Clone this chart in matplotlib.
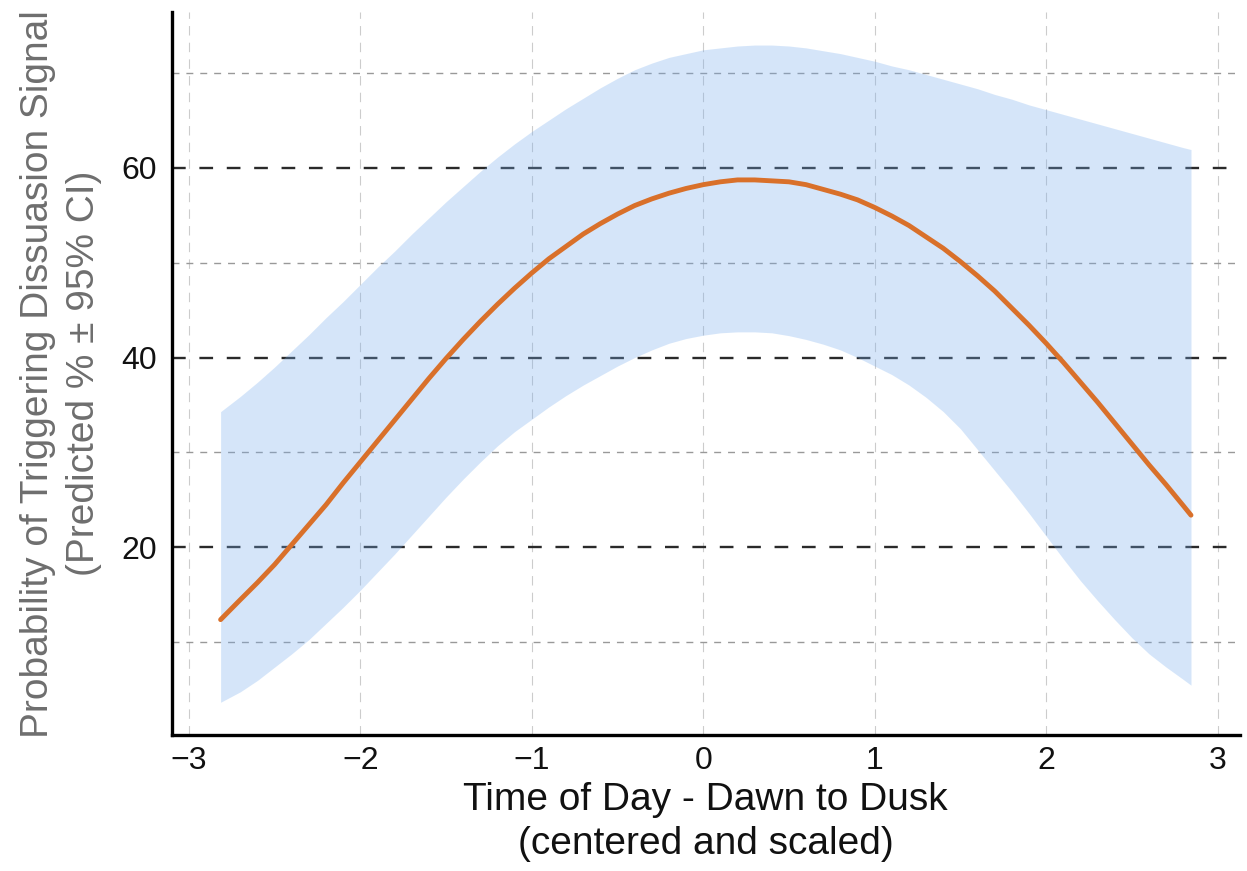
import numpy as np
import matplotlib
matplotlib.use("Agg")
import matplotlib.pyplot as plt

plt.rcParams["font.family"] = ["Liberation Sans", "DejaVu Sans"]

# values
time_scaled = [-2.815, -2.7, -2.6, -2.5, -2.4, -2.3, -2.2, -2.1, -2.0, -1.9,
               -1.8, -1.7, -1.6, -1.5, -1.4, -1.3, -1.2, -1.1, -1.0, -0.9,
               -0.8, -0.7, -0.6, -0.5, -0.4, -0.3, -0.2, -0.1,
               0.0, 0.1, 0.2, 0.3, 0.4, 0.5, 0.6, 0.7, 0.8, 0.9,
               1.0, 1.1, 1.2, 1.3, 1.4, 1.5, 1.6, 1.7, 1.8, 1.9,
               2.0, 2.1, 2.2, 2.3, 2.4, 2.5, 2.6, 2.7, 2.8, 2.845]
predicted = [12.4, 14.5, 16.3, 18.2, 20.3, 22.4, 24.5, 26.8, 29.0, 31.2,
             33.4, 35.6, 37.8, 39.9, 41.9, 43.8, 45.6, 47.3, 48.9, 50.4,
             51.7, 53.0, 54.1, 55.1, 56.0, 56.7, 57.3, 57.8,
             58.2, 58.5, 58.7, 58.7, 58.6, 58.5, 58.2, 57.7, 57.2, 56.6,
             55.8, 54.9, 53.9, 52.7, 51.5, 50.1, 48.6, 47.0, 45.2, 43.4,
             41.5, 39.5, 37.4, 35.3, 33.1, 30.9, 28.7, 26.6, 24.4, 23.4]
ci_upper = [34.3, 35.9, 37.4, 39.0, 40.7, 42.4, 44.2, 45.9, 47.7, 49.5,
            51.2, 53.0, 54.7, 56.4, 58.0, 59.6, 61.1, 62.5, 63.8, 65.0,
            66.2, 67.3, 68.4, 69.4, 70.3, 71.0, 71.6, 72.0,
            72.4, 72.6, 72.8, 72.9, 72.9, 72.8, 72.6, 72.3, 72.0, 71.6,
            71.2, 70.7, 70.3, 69.8, 69.3, 68.8, 68.3, 67.7, 67.2, 66.6,
            66.1, 65.6, 65.1, 64.6, 64.1, 63.6, 63.1, 62.6, 62.1, 61.9]
ci_lower = [3.7, 4.8, 6.0, 7.4, 8.8, 10.3, 12.0, 13.7, 15.5, 17.4,
            19.3, 21.3, 23.3, 25.3, 27.2, 29.0, 30.7, 32.2, 33.5, 34.8,
            36.0, 37.1, 38.1, 39.1, 40.0, 40.8, 41.5, 42.0,
            42.35, 42.6, 42.7, 42.7, 42.6, 42.3, 41.9, 41.4, 40.8, 40.0,
            39.1, 38.2, 37.1, 35.8, 34.3, 32.5, 30.3, 28.1, 25.9, 23.6,
            21.2, 18.8, 16.5, 14.4, 12.4, 10.5, 8.8, 7.4, 6.1, 5.5]

x_ticks = [-3, -2, -1, 0, 1, 2, 3]
y_major = [20, 40, 60]
y_minor = [10, 30, 50, 70]

fig = plt.figure(figsize=(12.47, 8.71), dpi=100)
ax = fig.add_axes([0.138, 0.156, 0.856, 0.830])

ax.plot(time_scaled, predicted, color="#d9702a", linewidth=3.5, zorder=4,
        solid_capstyle="round", solid_joinstyle="round")
ax.fill_between(time_scaled, ci_lower, ci_upper, color="#76acee", alpha=0.3,
                linewidth=0, zorder=3)

ax.set_xticks(x_ticks)
ax.set_yticks(y_major)
ax.set_yticks(y_minor, minor=True)

ax.grid(True, axis="x", color="#cccccc", linewidth=0.8,
        linestyle=(0, (8.5, 6.5)), zorder=1)
ax.grid(True, axis="y", which="major", color="#2a2a2a", linewidth=1.7,
        linestyle=(0, (5.8, 5.8)), zorder=2)
ax.grid(True, axis="y", which="minor", color="#999999", linewidth=1.0,
        linestyle=(0, (5, 5)), zorder=2)
ax.set_axisbelow(True)

for side in ["top", "right"]:
    ax.spines[side].set_visible(False)
for side in ["left", "bottom"]:
    ax.spines[side].set_linewidth(2.4)
    ax.spines[side].set_color("black")

ax.tick_params(axis="both", which="both", length=0, labelsize=23,
               labelcolor="#111111")
ax.tick_params(axis="x", pad=8)
ax.tick_params(axis="y", pad=11)

ax.set_xlabel("Time of Day - Dawn to Dusk\n(centered and scaled)",
              fontsize=28, color="#111111", linespacing=1.3, labelpad=4)
ax.set_ylabel("Probability of Triggering Dissuasion Signal\n(Predicted % \u00b1 95% CI)",
              fontsize=28, color="#6e6e6e", linespacing=1.35, labelpad=14)

fig.savefig("out.png", dpi=100, facecolor="white")
